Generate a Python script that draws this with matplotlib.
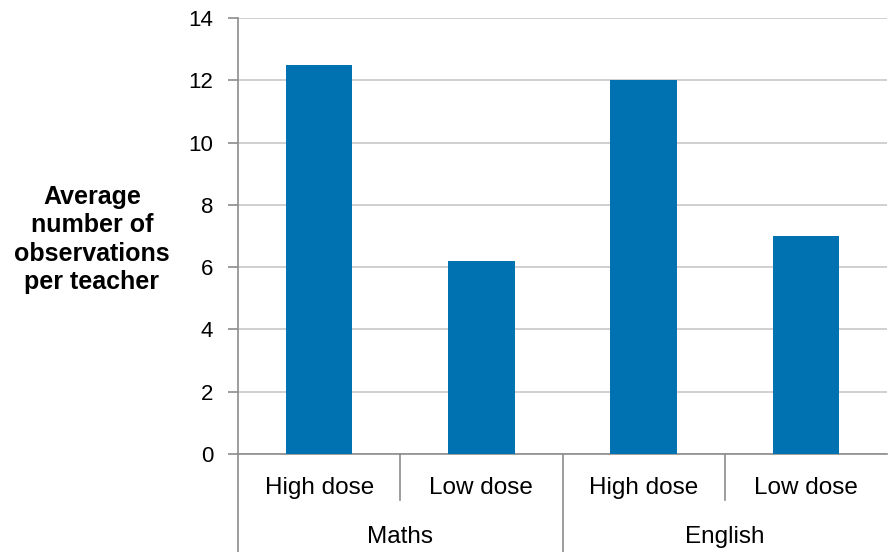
import matplotlib.pyplot as plt
from matplotlib.transforms import blended_transform_factory

plt.rcParams['font.family'] = ['Liberation Sans', 'DejaVu Sans']

# Data
subjects = ["Maths", "English"]
doses = ["High dose", "Low dose", "High dose", "Low dose"]
values = [12.5, 6.2, 12.0, 7.0]

bar_color = "#0072B2"
axis_color = "#8c8c8c"
grid_color = "#c8c8c8"

fig = plt.figure(figsize=(8.89, 5.52), dpi=100)
ax = fig.add_axes([238 / 889, 98 / 552, 649 / 889, 436 / 552])

x = list(range(len(values)))
ax.bar(x, values, width=0.41, color=bar_color, zorder=3)

ax.set_xlim(-0.5, len(values) - 0.5)
ax.set_ylim(0, 14)
ax.set_yticks(range(0, 15, 2))
ax.yaxis.grid(True, color=grid_color, linewidth=1.2, zorder=0)
ax.tick_params(axis="y", labelsize=16, length=7, width=1.2, color=axis_color, pad=11)
ax.set_xticks([])

for side in ["top", "right"]:
    ax.spines[side].set_visible(False)
for side in ["left", "bottom"]:
    ax.spines[side].set_color(axis_color)
    ax.spines[side].set_linewidth(1.2)

# Two-level category axis
trans = blended_transform_factory(ax.transData, ax.transAxes)
for i, lab in enumerate(doses):
    ax.text(i, -0.078, lab, transform=trans, ha="center", va="center", fontsize=17.5)
for j, lab in enumerate(subjects):
    ax.text(2 * j + 0.5, -0.19, lab, transform=trans, ha="center", va="center", fontsize=17.5)

# separators
for xs in [0.5, 2.5]:
    ax.plot([xs, xs], [0, -0.105], transform=trans, color=axis_color, lw=1.2, clip_on=False)
for xs in [-0.5, 1.5]:
    ax.plot([xs, xs], [0, -0.225], transform=trans, color=axis_color, lw=1.2, clip_on=False)

ax.set_ylabel("Average\nnumber of\nobservations\nper teacher", rotation=0,
              fontsize=18, fontweight="bold", ha="center", va="center",
              linespacing=1.22)
ax.yaxis.set_label_coords(-0.225, 0.492)

fig.savefig("out.png", dpi=100)
